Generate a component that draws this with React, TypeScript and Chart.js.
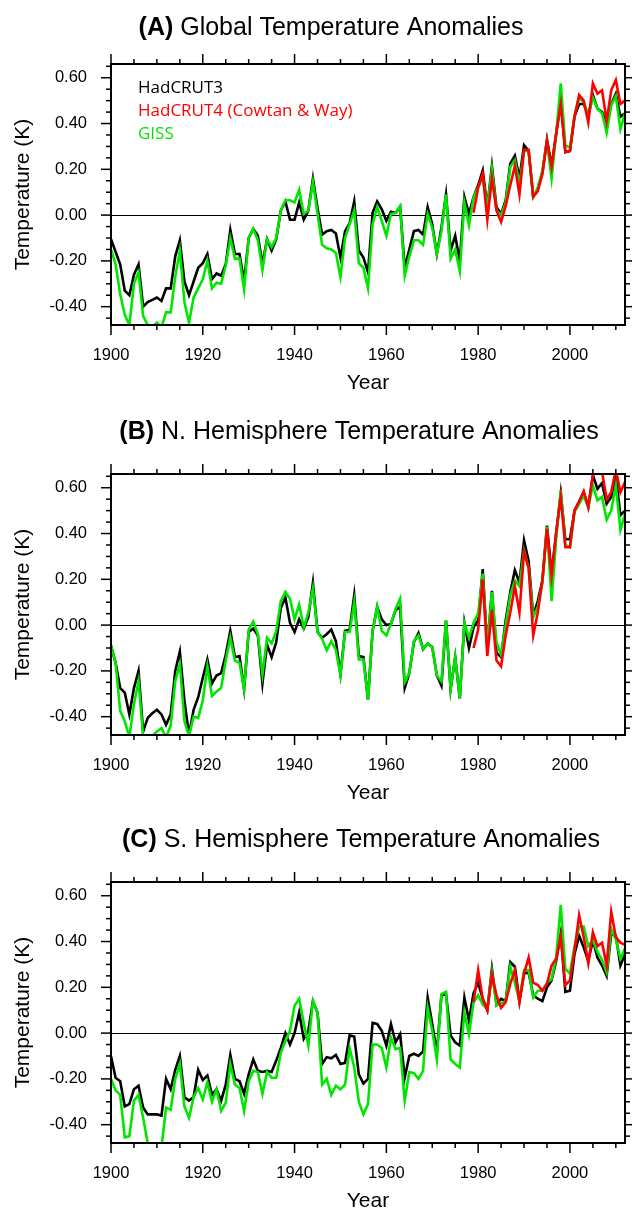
import React, { useEffect, useRef } from 'react';
import { Chart, registerables } from 'chart.js';

Chart.register(...registerables);

// ---------- data ----------
const FIRST_YEAR = 1900;
const LAST_YEAR = 2012;
const HAD4_START = 1979;

const xMajorTicks = [1900, 1920, 1940, 1960, 1980, 2000];
const xMinorTicks = [1905, 1910, 1915, 1925, 1930, 1935, 1945, 1950, 1955, 1965, 1970, 1975, 1985, 1990, 1995, 2005, 2010];
const yMajorTicks = [-0.4, -0.2, 0.0, 0.2, 0.4, 0.6];
const yMinorTicks = [-0.45, -0.35, -0.3, -0.25, -0.15, -0.1, -0.05, 0.05, 0.1, 0.15, 0.25, 0.3, 0.35, 0.45, 0.5, 0.55, 0.65];
const Y_MIN = -0.48;
const Y_MAX = 0.66;

// (A) Global
const globalHad3 = [
  -0.105, -0.16, -0.215, -0.33, -0.35, -0.26, -0.215, -0.40, -0.38, -0.37,
  -0.36, -0.375, -0.32, -0.32, -0.18, -0.11, -0.29, -0.35, -0.29, -0.23,
  -0.21, -0.17, -0.28, -0.255, -0.265, -0.215, -0.065, -0.17, -0.17, -0.29,
  -0.10, -0.06, -0.09, -0.215, -0.105, -0.155, -0.105, 0.02, 0.06, -0.02,
  -0.02, 0.055, -0.02, 0.02, 0.16, 0.03, -0.085, -0.07, -0.065, -0.08,
  -0.185, -0.07, -0.035, 0.06, -0.155, -0.185, -0.25, 0.01, 0.06, 0.025,
  -0.025, 0.015, 0.01, 0.035, -0.23, -0.15, -0.07, -0.065, -0.085, 0.035,
  -0.04, -0.17, -0.055, 0.09, -0.155, -0.09, -0.2, 0.08, 0.005, 0.08,
  0.13, 0.195, 0.035, 0.215, 0.035, 0.005, 0.065, 0.225, 0.26, 0.16,
  0.305, 0.28, 0.08, 0.115, 0.185, 0.33, 0.215, 0.355, 0.50, 0.275,
  0.28, 0.43, 0.485, 0.485, 0.435, 0.525, 0.465, 0.45, 0.405, 0.485,
  0.53, 0.43, 0.445,
];
const globalGiss = [
  -0.15, -0.215, -0.345, -0.435, -0.48, -0.30, -0.25, -0.44, -0.48, -0.49,
  -0.47, -0.49, -0.425, -0.425, -0.27, -0.155, -0.38, -0.47, -0.36, -0.32,
  -0.28, -0.2, -0.32, -0.295, -0.30, -0.22, -0.10, -0.19, -0.19, -0.325,
  -0.10, -0.06, -0.11, -0.24, -0.105, -0.14, -0.10, 0.02, 0.065, 0.065,
  0.055, 0.11, 0.005, 0.02, 0.145, 0.005, -0.13, -0.145, -0.15, -0.165,
  -0.27, -0.10, -0.04, 0.02, -0.21, -0.23, -0.32, -0.04, 0.035, -0.025,
  -0.09, 0.005, 0.01, 0.04, -0.265, -0.18, -0.11, -0.11, -0.13, 0.005,
  -0.055, -0.17, -0.07, 0.09, -0.19, -0.15, -0.245, 0.055, -0.045, 0.08,
  0.12, 0.165, 0.035, 0.2, 0.02, 0.0, 0.055, 0.21, 0.24, 0.135,
  0.28, 0.28, 0.08, 0.12, 0.195, 0.32, 0.16, 0.355, 0.575, 0.305,
  0.295, 0.435, 0.51, 0.495, 0.43, 0.515, 0.465, 0.445, 0.36, 0.48,
  0.52, 0.375, 0.445,
];
const globalHad4 = [
  0.01, 0.12, 0.18, -0.02, 0.16, 0.02, -0.03, 0.04, 0.13, 0.215,
  0.09, 0.285, 0.285, 0.08, 0.105, 0.18, 0.325, 0.21, 0.355, 0.485,
  0.275, 0.28, 0.43, 0.525, 0.50, 0.405, 0.575, 0.53, 0.545, 0.41,
  0.545, 0.59, 0.485, 0.50,
];

// (B) N. Hemisphere
const nhHad3 = [
  -0.09, -0.165, -0.275, -0.295, -0.39, -0.275, -0.20, -0.465, -0.405, -0.385,
  -0.37, -0.39, -0.435, -0.39, -0.20, -0.115, -0.33, -0.48, -0.37, -0.315,
  -0.23, -0.15, -0.255, -0.22, -0.21, -0.13, -0.025, -0.14, -0.135, -0.28,
  -0.03, -0.015, -0.045, -0.255, -0.085, -0.14, -0.075, 0.075, 0.12, 0.01,
  -0.03, 0.025, -0.015, 0.035, 0.185, -0.03, -0.055, -0.04, -0.02, -0.07,
  -0.215, -0.025, -0.02, 0.13, -0.135, -0.14, -0.325, -0.025, 0.08, 0.025,
  0.0, 0.005, 0.065, 0.08, -0.275, -0.21, -0.075, -0.035, -0.105, -0.08,
  -0.095, -0.22, -0.265, 0.02, -0.28, -0.14, -0.32, 0.01, -0.10, -0.01,
  0.02, 0.245, -0.10, 0.15, -0.12, -0.14, 0.02, 0.145, 0.24, 0.185,
  0.37, 0.28, 0.04, 0.105, 0.195, 0.435, 0.225, 0.40, 0.575, 0.375,
  0.375, 0.50, 0.54, 0.58, 0.515, 0.655, 0.595, 0.62, 0.53, 0.56,
  0.65, 0.48, 0.50,
];
const nhGiss = [
  -0.09, -0.165, -0.375, -0.42, -0.49, -0.345, -0.245, -0.485, -0.50, -0.485,
  -0.465, -0.45, -0.49, -0.44, -0.245, -0.17, -0.42, -0.485, -0.40, -0.405,
  -0.33, -0.18, -0.31, -0.29, -0.275, -0.155, -0.055, -0.155, -0.165, -0.28,
  -0.02, 0.015, -0.04, -0.215, -0.055, -0.08, -0.025, 0.105, 0.145, 0.115,
  0.025, 0.09, -0.01, 0.055, 0.16, -0.03, -0.06, -0.11, -0.07, -0.11,
  -0.22, -0.03, -0.03, 0.10, -0.15, -0.15, -0.325, -0.025, 0.08, -0.025,
  -0.045, 0.005, 0.07, 0.115, -0.25, -0.21, -0.07, -0.045, -0.105, -0.08,
  -0.095, -0.22, -0.245, 0.02, -0.28, -0.14, -0.32, 0.01, -0.055, 0.01,
  0.05, 0.225, -0.10, 0.145, -0.075, -0.13, 0.0, 0.13, 0.195, 0.17,
  0.325, 0.25, 0.035, 0.08, 0.185, 0.43, 0.105, 0.375, 0.59, 0.35,
  0.34, 0.495, 0.53, 0.565, 0.515, 0.61, 0.545, 0.56, 0.46, 0.50,
  0.61, 0.415, 0.485,
];
const nhHad4 = [
  -0.10, -0.02, 0.20, -0.135, 0.065, -0.155, -0.18, -0.045, 0.055, 0.17,
  0.055, 0.32, 0.25, -0.045, 0.055, 0.195, 0.42, 0.215, 0.405, 0.56,
  0.34, 0.34, 0.50, 0.54, 0.585, 0.515, 0.655, 0.67, 0.67, 0.55,
  0.58, 0.68, 0.58, 0.625,
];

// (C) S. Hemisphere
const shHad3 = [
  -0.10, -0.195, -0.21, -0.32, -0.31, -0.245, -0.23, -0.325, -0.355, -0.355,
  -0.355, -0.36, -0.20, -0.245, -0.16, -0.10, -0.28, -0.295, -0.28, -0.16,
  -0.205, -0.185, -0.27, -0.245, -0.295, -0.225, -0.095, -0.20, -0.21, -0.265,
  -0.18, -0.115, -0.165, -0.17, -0.165, -0.17, -0.12, -0.065, 0.0, -0.05,
  0.0, 0.09, -0.025, 0.01, 0.14, 0.09, -0.135, -0.105, -0.11, -0.095,
  -0.135, -0.13, -0.01, -0.015, -0.18, -0.22, -0.20, 0.045, 0.04, 0.01,
  -0.055, 0.04, -0.04, -0.005, -0.195, -0.10, -0.09, -0.10, -0.08, 0.155,
  0.04, -0.085, 0.165, 0.17, -0.01, -0.04, -0.055, 0.155, 0.055, 0.175,
  0.22, 0.15, 0.10, 0.28, 0.125, 0.15, 0.14, 0.31, 0.29, 0.14,
  0.26, 0.265, 0.165, 0.15, 0.14, 0.20, 0.23, 0.315, 0.435, 0.18,
  0.185, 0.345, 0.425, 0.375, 0.315, 0.405, 0.33, 0.295, 0.25, 0.435,
  0.425, 0.295, 0.345,
];
const shGiss = [
  -0.20, -0.25, -0.27, -0.455, -0.45, -0.295, -0.27, -0.37, -0.48, -0.50,
  -0.49, -0.50, -0.325, -0.335, -0.20, -0.135, -0.32, -0.37, -0.28, -0.24,
  -0.29, -0.215, -0.30, -0.245, -0.34, -0.305, -0.135, -0.225, -0.24, -0.34,
  -0.21, -0.165, -0.17, -0.265, -0.17, -0.195, -0.195, -0.085, -0.035, 0.01,
  0.12, 0.15, 0.045, -0.055, 0.14, 0.09, -0.225, -0.20, -0.27, -0.23,
  -0.245, -0.225, -0.065, -0.15, -0.30, -0.355, -0.31, -0.05, -0.05, -0.065,
  -0.15, -0.02, -0.07, -0.065, -0.295, -0.17, -0.175, -0.20, -0.165, 0.11,
  0.01, -0.115, 0.17, 0.18, -0.115, -0.135, -0.15, 0.09, -0.005, 0.135,
  0.165, 0.125, 0.105, 0.265, 0.12, 0.13, 0.14, 0.29, 0.22, 0.14,
  0.275, 0.275, 0.155, 0.185, 0.185, 0.22, 0.235, 0.33, 0.56, 0.28,
  0.26, 0.38, 0.465, 0.465, 0.38, 0.405, 0.355, 0.32, 0.265, 0.455,
  0.41, 0.325, 0.37,
];
const shHad4 = [
  0.135, 0.275, 0.15, 0.10, 0.255, 0.165, 0.11, 0.135, 0.215, 0.275,
  0.135, 0.26, 0.33, 0.22, 0.21, 0.185, 0.215, 0.295, 0.325, 0.425,
  0.21, 0.23, 0.36, 0.515, 0.42, 0.305, 0.44, 0.38, 0.395, 0.295,
  0.53, 0.42, 0.395, 0.385,
];

const seriesNames = ['HadCRUT3', 'HadCRUT4 (Cowtan & Way)', 'GISS'];
const seriesColors = ['#000000', '#ff0000', '#00e600'];

// ---------- styling ----------
const SANS = '"Liberation Sans", Arial, Helvetica, sans-serif';
const LEGEND_FONT = '"Open Sans", "DejaVu Sans", sans-serif';
const CANVAS_W = 632;
const CANVAS_H = 396;
const PLOT_BOTTOM = 325;

type PanelDef = {
  key: string;
  bold: string;
  rest: string;
  titleCx: number;
  titleBaseline: number;
  had3: number[];
  giss: number[];
  had4: number[];
  legend: boolean;
  top: number;
};

const panels: PanelDef[] = [
  { key: 'A', bold: '(A)', rest: 'Global Temperature Anomalies', titleCx: 331, titleBaseline: 35, had3: globalHad3, giss: globalGiss, had4: globalHad4, legend: true, top: 0 },
  { key: 'B', bold: '(B)', rest: 'N. Hemisphere Temperature Anomalies', titleCx: 359, titleBaseline: 29, had3: nhHad3, giss: nhGiss, had4: nhHad4, legend: false, top: 410 },
  { key: 'C', bold: '(C)', rest: 'S. Hemisphere Temperature Anomalies', titleCx: 361, titleBaseline: 29, had3: shHad3, giss: shGiss, had4: shHad4, legend: false, top: 818 },
];

const toPoints = (start: number, vals: number[]) => vals.map((v, i) => ({ x: start + i, y: v }));

const nclPlugin = {
  id: 'ncl',
  beforeDatasetsDraw(chart: any) {
    const { ctx, chartArea } = chart;
    const ys = chart.scales.y;
    const y0 = ys.getPixelForValue(0);
    ctx.save();
    ctx.strokeStyle = '#000';
    ctx.lineWidth = 1;
    ctx.beginPath();
    ctx.moveTo(chartArea.left, Math.round(y0) + 0.5);
    ctx.lineTo(chartArea.right, Math.round(y0) + 0.5);
    ctx.stroke();
    ctx.restore();
  },
  afterDatasetsDraw(chart: any, _args: any, opts: any) {
    const { ctx, chartArea } = chart;
    const { left, right, top, bottom } = chartArea;
    const xs = chart.scales.x;
    const ys = chart.scales.y;
    ctx.save();
    ctx.strokeStyle = '#000';
    ctx.lineWidth = 1.5;
    const tick = (x1: number, y1: number, x2: number, y2: number) => {
      ctx.beginPath();
      ctx.moveTo(x1, y1);
      ctx.lineTo(x2, y2);
      ctx.stroke();
    };
    const MAJ = 10;
    const MIN = 5;
    xMajorTicks.forEach((v) => {
      const p = xs.getPixelForValue(v);
      tick(p, bottom, p, bottom + MAJ);
      tick(p, top, p, top - MAJ);
    });
    xMinorTicks.forEach((v) => {
      const p = xs.getPixelForValue(v);
      tick(p, bottom, p, bottom + MIN);
      tick(p, top, p, top - MIN);
    });
    yMajorTicks.forEach((v) => {
      const p = ys.getPixelForValue(v);
      tick(left, p, left - MAJ, p);
      tick(right, p, right + MAJ, p);
    });
    yMinorTicks.forEach((v) => {
      const p = ys.getPixelForValue(v);
      tick(left, p, left - MIN, p);
      tick(right, p, right + MIN, p);
    });
    ctx.lineWidth = 2;
    ctx.strokeRect(left, top, right - left, bottom - top);

    // title
    ctx.fillStyle = '#000';
    ctx.textBaseline = 'alphabetic';
    ctx.textAlign = 'left';
    const boldFont = `bold 25px ${SANS}`;
    const normFont = `25px ${SANS}`;
    ctx.font = boldFont;
    const wb = ctx.measureText(opts.bold).width;
    ctx.font = normFont;
    const wr = ctx.measureText(' ' + opts.rest).width;
    const x0 = opts.titleCx - (wb + wr) / 2;
    ctx.font = boldFont;
    ctx.fillText(opts.bold, x0, opts.titleBaseline);
    ctx.font = normFont;
    ctx.fillText(' ' + opts.rest, x0 + wb, opts.titleBaseline);

    // legend (text only)
    if (opts.legend) {
      ctx.font = `17px ${LEGEND_FONT}`;
      seriesNames.forEach((name, i) => {
        ctx.fillStyle = seriesColors[i];
        ctx.fillText(name, left + 27, 93 + i * 23);
      });
    }
    ctx.restore();
  },
};

function Panel({ def }: { def: PanelDef }) {
  const ref = useRef<HTMLCanvasElement | null>(null);
  useEffect(() => {
    if (!ref.current) return;
    const chart = new Chart(ref.current, {
      type: 'line',
      data: {
        datasets: [
          {
            label: seriesNames[1],
            data: toPoints(HAD4_START, def.had4),
            borderColor: seriesColors[1],
            borderWidth: 2.6,
            pointRadius: 0,
            tension: 0,
            order: 1,
            clip: 0,
          },
          {
            label: seriesNames[2],
            data: toPoints(FIRST_YEAR, def.giss),
            borderColor: seriesColors[2],
            borderWidth: 2.6,
            pointRadius: 0,
            tension: 0,
            order: 2,
            clip: 0,
          },
          {
            label: seriesNames[0],
            data: toPoints(FIRST_YEAR, def.had3),
            borderColor: seriesColors[0],
            borderWidth: 2.6,
            pointRadius: 0,
            tension: 0,
            order: 3,
            clip: 0,
          },
        ],
      } as any,
      options: {
        animation: false,
        responsive: false,
        maintainAspectRatio: false,
        events: [],
        layout: { padding: { top: 64, right: 7, left: 0, bottom: 0 } },
        plugins: {
          legend: { display: false },
          tooltip: { enabled: false },
          title: { display: false },
          ncl: {
            bold: def.bold,
            rest: def.rest,
            titleCx: def.titleCx,
            titleBaseline: def.titleBaseline,
            legend: def.legend,
          },
        } as any,
        scales: {
          x: {
            type: 'linear',
            min: FIRST_YEAR,
            max: LAST_YEAR,
            afterBuildTicks: (s: any) => {
              s.ticks = xMajorTicks.map((v) => ({ value: v }));
            },
            afterFit: (s: any) => {
              s.height = CANVAS_H - PLOT_BOTTOM;
            },
            grid: { display: false, drawTicks: false },
            border: { display: false },
            ticks: {
              padding: 21,
              color: '#000',
              autoSkip: false,
              maxRotation: 0,
              font: { family: SANS, size: 16.5 },
              callback: (v: any) => String(v),
            },
            title: {
              display: true,
              text: 'Year',
              color: '#000',
              font: { family: SANS, size: 21 },
              padding: { top: 0, bottom: 0 },
            },
          },
          y: {
            type: 'linear',
            min: Y_MIN,
            max: Y_MAX,
            afterBuildTicks: (s: any) => {
              s.ticks = yMajorTicks.map((v) => ({ value: v }));
            },
            afterFit: (s: any) => {
              s.width = 111;
            },
            grid: { display: false, drawTicks: false },
            border: { display: false },
            ticks: {
              padding: 24,
              color: '#000',
              autoSkip: false,
              font: { family: SANS, size: 16.5 },
              callback: (v: any) => Number(v).toFixed(2),
            },
            title: {
              display: true,
              text: 'Temperature (K)',
              color: '#000',
              font: { family: SANS, size: 21 },
              padding: { top: 11, bottom: 0 },
            },
          },
        },
      } as any,
      plugins: [nclPlugin as any],
    });
    return () => chart.destroy();
  }, [def]);
  return (
    <canvas
      ref={ref}
      width={CANVAS_W}
      height={CANVAS_H}
      style={{ position: 'absolute', left: 0, top: def.top, width: CANVAS_W, height: CANVAS_H }}
    />
  );
}

export default function App() {
  return (
    <div
      style={{
        position: 'absolute',
        left: 0,
        top: 0,
        width: 632,
        height: 1212,
        overflow: 'hidden',
        background: '#fff',
      }}
    >
      {panels.map((p) => (
        <Panel key={p.key} def={p} />
      ))}
    </div>
  );
}
